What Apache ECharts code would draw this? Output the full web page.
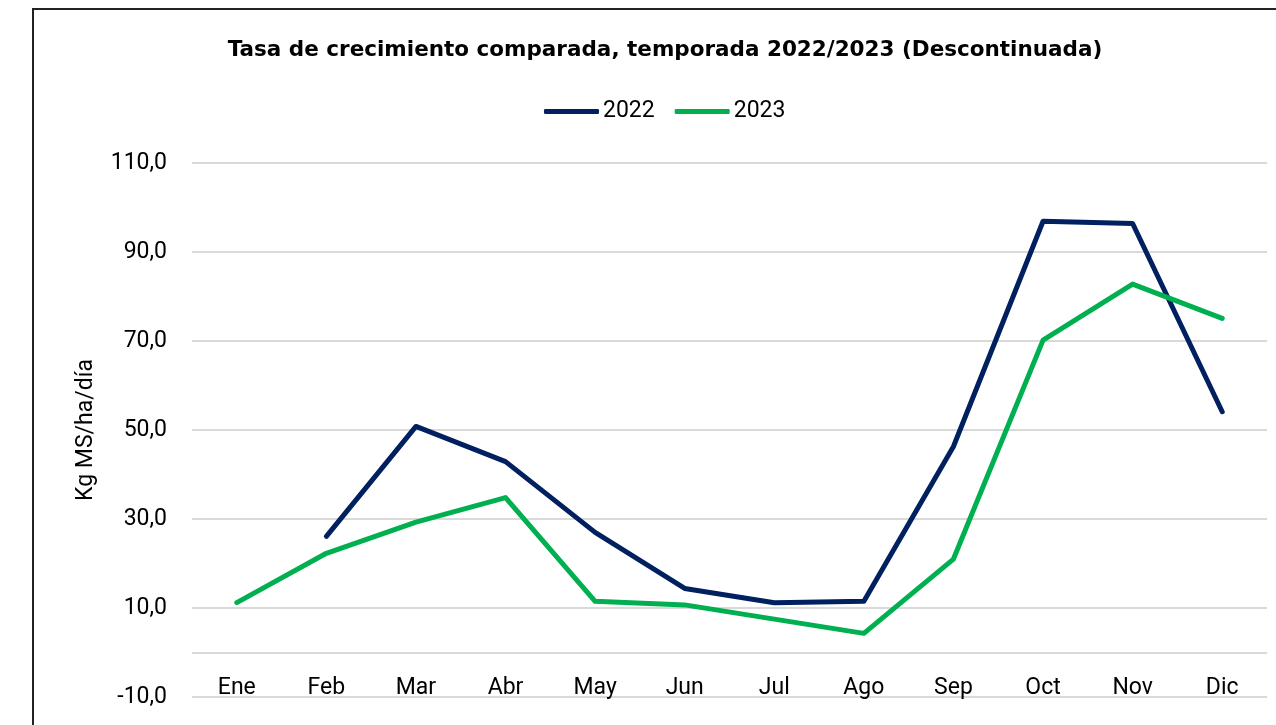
<!DOCTYPE html>
<html>
<head>
<meta charset="utf-8">
<script src="https://cdn.jsdelivr.net/npm/echarts@6/dist/echarts.min.js"></script>
<style>
    html, body { margin: 0; padding: 0; background: #fff; overflow: hidden; }
    #frame { position: absolute; left: 32px; top: 8px; width: 1300px; height: 800px; border: 2px solid #222; box-sizing: border-box; }
    #chart { position: absolute; left: 0; top: 0; width: 1276px; height: 725px; }
</style>
</head>
<body>
<div id="frame"></div>
<div id="chart"></div>
<script>
// months and growth values (Kg MS/ha/día)
const months = ['Ene', 'Feb', 'Mar', 'Abr', 'May', 'Jun', 'Jul', 'Ago', 'Sep', 'Oct', 'Nov', 'Dic'];
const values2022 = [null, 26.1, 50.8, 42.9, 27.0, 14.4, 11.2, 11.5, 46.3, 96.9, 96.4, 54.1];
const values2023 = [11.2, 22.3, 29.3, 34.8, 11.5, 10.7, 7.5, 4.3, 21.0, 70.2, 82.8, 75.1];

const FONT = 'Roboto';

document.addEventListener('DOMContentLoaded', () => {
    const chart = echarts.init(document.getElementById('chart'));

    const option = {
        animation: false,
        textStyle: { fontFamily: FONT },
        title: {
            text: 'Tasa de crecimiento comparada, temporada 2022/2023 (Descontinuada)',
            left: 660,
            textAlign: 'center',
            top: 34,
            textStyle: { fontFamily: 'DejaVu Sans', fontSize: 21.5, fontWeight: 'bold', color: '#000' }
        },
        legend: {
            top: 95,
            left: 539,
            icon: 'roundRect',
            itemWidth: 55,
            itemHeight: 5,
            itemGap: 20,
            textStyle: { fontFamily: FONT, fontSize: 23, color: '#000', padding: [0, 0, 0, -1] },
            data: ['2022', '2023']
        },
        grid: {
            left: 192,
            right: 9,
            top: 163,
            bottom: 28,
            containLabel: false,
            outerBoundsMode: 'none'
        },
        xAxis: {
            type: 'category',
            data: months,
            boundaryGap: true,
            offset: -45,
            axisLine: { show: false, onZero: false },
            axisTick: { show: false },
            axisLabel: { fontFamily: FONT, fontSize: 23, color: '#000', margin: 25 }
        },
        yAxis: {
            type: 'value',
            min: -10,
            max: 110,
            interval: 20,
            name: 'Kg MS/ha/día',
            nameLocation: 'middle',
            nameGap: 94,
            nameTextStyle: { fontFamily: FONT, fontSize: 23, color: '#000' },
            axisLine: { show: false },
            axisTick: { show: false },
            axisLabel: {
                fontFamily: FONT,
                fontSize: 23,
                color: '#000',
                margin: 25,
                formatter: v => v.toFixed(1).replace('.', ',')
            },
            splitLine: { lineStyle: { color: '#d9d9d9', width: 2 } }
        },
        series: [
            {
                name: '2022',
                type: 'line',
                data: values2022,
                connectNulls: false,
                symbol: 'none',
                color: '#002060',
                lineStyle: { width: 5, color: '#002060', cap: 'round', join: 'round' },
                // horizontal category axis line sits at zero
                markLine: {
                    silent: true,
                    symbol: 'none',
                    label: { show: false },
                    lineStyle: { color: '#d9d9d9', width: 2, type: 'solid' },
                    data: [{ yAxis: 0 }],
                    z: 1
                }
            },
            {
                name: '2023',
                type: 'line',
                data: values2023,
                symbol: 'none',
                color: '#00b050',
                lineStyle: { width: 5, color: '#00b050', cap: 'round', join: 'round' }
            }
        ]
    };

    chart.setOption(option);
    window.addEventListener('resize', () => { chart.resize(); });
});
</script>
</body>
</html>
